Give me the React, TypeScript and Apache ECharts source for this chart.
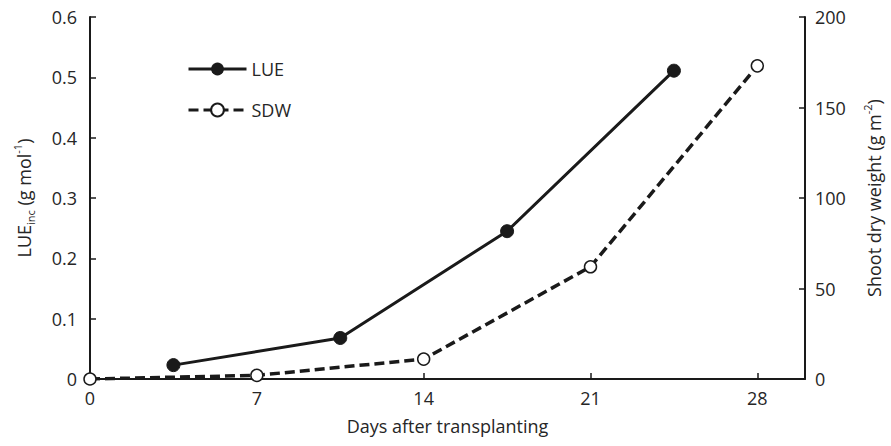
import React, { useEffect, useRef } from "react";
import * as echarts from "echarts";

const lueDays = [3.5, 10.5, 17.5, 24.5];
const lueValues = [0.023, 0.068, 0.245, 0.511];
const sdwDays = [0, 7, 14, 21, 28];
const sdwValues = [0, 2, 11, 62, 173];
const xTicks = [0, 7, 14, 21, 28];

const FONT = "Open Sans";
const TEXT = "#262626";
const AXIS = "#1a1a1a";
const FS = 18;

export default function App() {
  const ref = useRef<HTMLDivElement>(null);
  useEffect(() => {
    const chart = echarts.init(ref.current!, null, { renderer: "svg" });
    const axisCommon = {
      axisLine: { show: true, lineStyle: { color: AXIS, width: 2 } },
      axisTick: { show: true, inside: true, length: 6, lineStyle: { color: AXIS, width: 1.5 } },
      splitLine: { show: false },
    };
    chart.setOption({
      animation: false,
      backgroundColor: "#ffffff",
      textStyle: { fontFamily: FONT, color: TEXT },
      grid: { left: 90, right: 79, top: 17, bottom: 67, containLabel: false },
      legend: {
        orient: "vertical",
        left: 182,
        top: 55,
        itemWidth: 58,
        itemHeight: 16,
        itemGap: 23,
        textStyle: { fontFamily: FONT, fontSize: FS, color: TEXT },
        lineStyle: { width: 3 },
        data: ["LUE", "SDW"],
      },
      xAxis: {
        type: "value",
        min: 0,
        max: 30,
        interval: 7,
        name: "Days after transplanting",
        nameLocation: "middle",
        nameGap: 38,
        nameTextStyle: { fontFamily: FONT, fontSize: FS, color: TEXT },
        ...axisCommon,
        axisLabel: {
          fontFamily: FONT,
          fontSize: FS,
          color: TEXT,
          margin: 10,
          formatter: (v: number) => (xTicks.includes(v) ? String(v) : ""),
        },
      },
      yAxis: [
        {
          type: "value",
          min: 0,
          max: 0.6,
          interval: 0.1,
          position: "left",
          name: "{n|LUE}{sub|inc}{n| (g mol}{sup|-1}{n|)}",
          nameLocation: "middle",
          nameRotate: 90,
          nameGap: 54,
          nameTextStyle: {
            rich: {
              n: { fontFamily: FONT, fontSize: FS, color: TEXT, lineHeight: 24, verticalAlign: "middle" },
              sub: { fontFamily: FONT, fontSize: 11, color: TEXT, lineHeight: 24, verticalAlign: "bottom" },
              sup: { fontFamily: FONT, fontSize: 11, color: TEXT, lineHeight: 24, verticalAlign: "top" },
            },
          },
          ...axisCommon,
          axisLabel: {
            fontFamily: FONT,
            fontSize: FS,
            color: TEXT,
            margin: 13,
            formatter: (v: number) => (v === 0 ? "0" : v.toFixed(1)),
          },
        },
        {
          type: "value",
          min: 0,
          max: 200,
          interval: 50,
          position: "right",
          name: "{n|Shoot dry weight (g m}{sup|-2}{n|)}",
          nameLocation: "middle",
          nameRotate: 90,
          nameGap: 57,
          nameTextStyle: {
            rich: {
              n: { fontFamily: FONT, fontSize: FS, color: TEXT, lineHeight: 24, verticalAlign: "middle" },
              sup: { fontFamily: FONT, fontSize: 11, color: TEXT, lineHeight: 24, verticalAlign: "top" },
            },
          },
          ...axisCommon,
          axisLabel: { fontFamily: FONT, fontSize: FS, color: TEXT, margin: 10 },
        },
      ],
      series: [
        {
          name: "LUE",
          type: "line",
          yAxisIndex: 0,
          data: lueDays.map((d, i) => [d, lueValues[i]]),
          symbol: "circle",
          symbolSize: 13,
          lineStyle: { color: AXIS, width: 3 },
          itemStyle: { color: AXIS, borderColor: AXIS },
          z: 3,
        },
        {
          name: "SDW",
          type: "line",
          yAxisIndex: 1,
          data: sdwDays.map((d, i) => [d, sdwValues[i]]),
          symbol: "circle",
          symbolSize: 12,
          lineStyle: { color: AXIS, width: 3.5, type: [10, 5] },
          itemStyle: { color: "#ffffff", borderColor: AXIS, borderWidth: 1.5 },
          z: 2,
        },
      ],
    });
    return () => chart.dispose();
  }, []);
  return (
    <div
      ref={ref}
      style={{ position: "absolute", left: 0, top: 0, width: 891, height: 446 }}
    />
  );
}
